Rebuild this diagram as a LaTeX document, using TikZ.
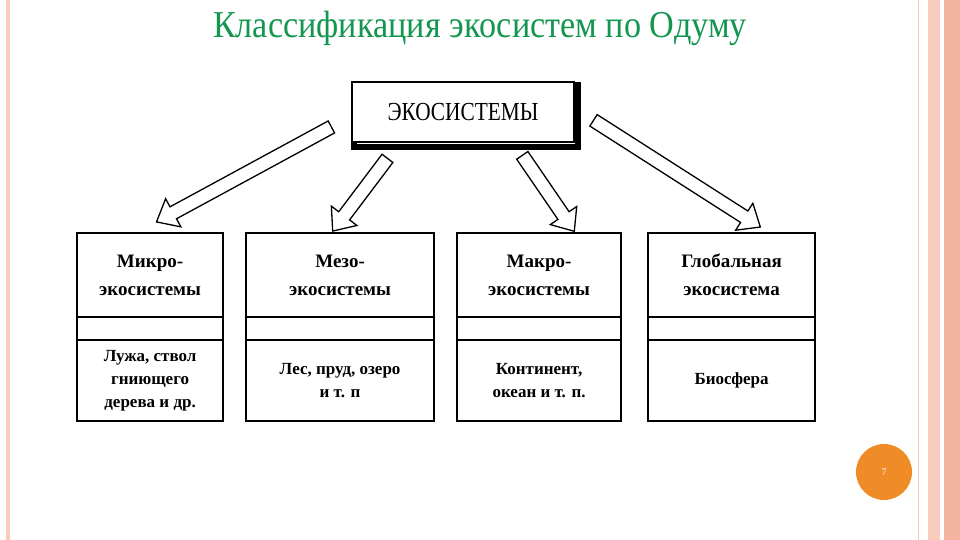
\documentclass[tikz,border=0pt]{standalone}
\usepackage{fontspec}
\setmainfont{Liberation Serif}
\newfontfamily\narrowser[FakeStretch=0.82]{Liberation Serif}
\newfontfamily\ttlser[FakeStretch=0.9]{Liberation Serif}
\usetikzlibrary{shapes.arrows}
\definecolor{ttl}{RGB}{20,150,80}
\definecolor{pinkb}{RGB}{248,205,190}
\definecolor{salmon}{RGB}{245,180,160}
\definecolor{orng}{RGB}{240,140,40}
\tikzset{
  col/.style={draw,line width=2.2pt,minimum width=#1,minimum height=84pt,align=center,font=\bfseries\fontsize{19}{28}\selectfont},
  sep/.style={draw,line width=2.2pt,inner sep=0pt},
  bot/.style={draw,line width=2.2pt,minimum width=#1,minimum height=81pt,align=center,font=\bfseries\fontsize{17}{23}\selectfont},
  hollow/.style={single arrow,draw,line width=1.3pt,fill=white,minimum width=32pt,single arrow head extend=9pt,single arrow tip angle=80,inner xsep=0pt,inner ysep=6pt,anchor=center}
}
\begin{document}
\begin{tikzpicture}[x=1pt,y=1pt]
\fill[white] (0,0) rectangle (960,540);
\useasboundingbox (0,0) rectangle (960,540);
\fill[pinkb] (6,0) rectangle (10,540);
\draw[pinkb,line width=1pt] (918,0) -- (918,540);
\fill[pinkb] (928,0) rectangle (940,540);
\fill[salmon] (944,0) rectangle (960,540);
\node[text=ttl,font=\ttlser\fontsize{38}{42}\selectfont] (title) at (480,512) {Классификация экосистем по Одуму};
% top box
\draw[line width=6pt] (354,393) rectangle (578,455);
\node[draw,line width=2pt,fill=white,minimum width=222pt,minimum height=60pt,font=\narrowser\fontsize{26}{30}\selectfont] (eco) at (463,428) {ЭКОСИСТЕМЫ};
% columns
\foreach \n/\xa/\xb/\t/\b in {a/76/222/{Микро-\\экосистемы}/{Лужа, ствол\\гниющего\\дерева и др.},
  b/245/433/{Мезо-\\экосистемы}/{Лес, пруд, озеро\\и т. п},
  c/456/620/{Макро-\\экосистемы}/{Континент,\\океан и т. п.},
  d/647/814/{Глобальная\\экосистема}/{Биосфера}}{
  \node[col=\xb-\xa pt,anchor=north west] (\n top) at (\xa,308) {\t};
  \node[sep,minimum width=\xb-\xa pt,minimum height=23pt,anchor=north west] (\n mid) at (\xa,224) {};
  \node[bot=\xb-\xa pt,anchor=north west] (\n bot) at (\xa,201) {\b};
}
% arrows
\node[hollow,minimum height=199pt,rotate=208.5] (ar1) at (247.5,367.5) {};
\node[hollow,minimum height=91pt,rotate=233] (ar2) at (362.5,348.5) {};
\node[hollow,minimum height=92pt,rotate=304.4] (ar3) at (546,350) {};
\node[hollow,minimum height=198pt,rotate=327.4] (ar4) at (673.5,368.5) {};
\node[circle,fill=orng,minimum size=56pt,text=white,font=\fontsize{10}{12}\selectfont] (pg) at (884,68) {7};
\end{tikzpicture}
\end{document}
